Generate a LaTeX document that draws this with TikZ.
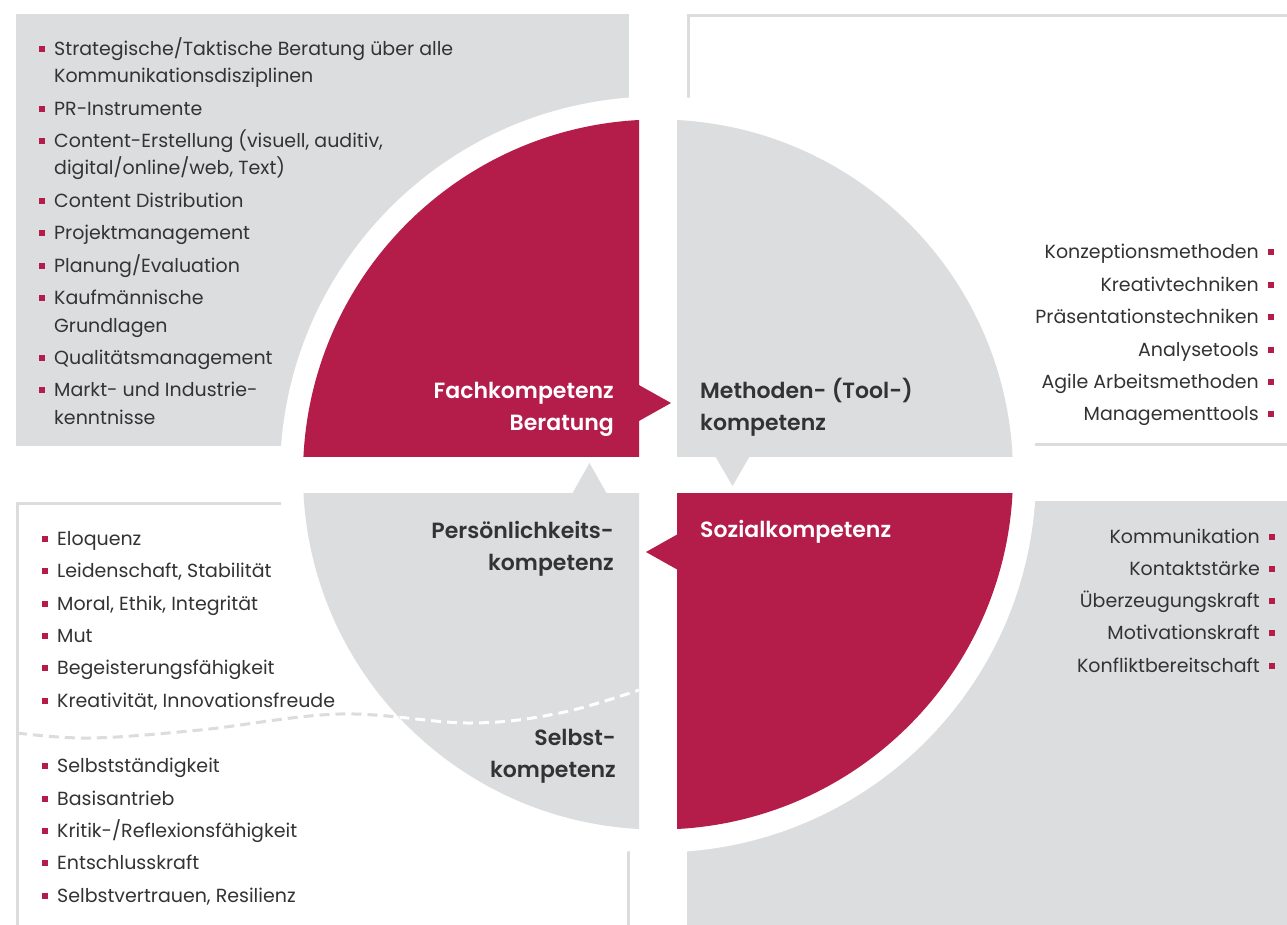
\documentclass[tikz,border=0pt]{standalone}
\usepackage{fontspec}
\setmainfont{Poppins}[BoldFont={Poppins SemiBold}]
\usetikzlibrary{calc}
\definecolor{kred}{HTML}{B41C4A}
\definecolor{kgray}{HTML}{DCDDDF}
\definecolor{ktext}{HTML}{333333}
\definecolor{kline}{HTML}{DCDCDC}
\tikzset{
  litem/.style={anchor=base west, inner sep=0pt, text=ktext, font=\fontsize{19}{22}\selectfont},
  ritem/.style={litem, anchor=base east},
  lab/.style={inner sep=0pt, font=\fontsize{22}{26}\selectfont\bfseries},
  labl/.style={lab, anchor=base west},
  labr/.style={lab, anchor=base east},
  bul/.style={fill=kred},
  outl/.style={draw=kline, line width=3pt},
  wave/.style={line width=3pt, dash pattern=on 10pt off 6pt},
}
\newcommand\Litem[4]{\node[litem] (#1) at (#2,#3) {#4};
  \fill[bul] ($(#1.base west)+(-15.25,-9.25)$) rectangle ++(6.5,6.5);}
\newcommand\Ritem[4]{\node[ritem] (#1) at (#2,#3) {#4};
  \fill[bul] ($(#1.base east)+(8.75,-9.25)$) rectangle ++(6.5,6.5);}
\newcommand\Lcont[4]{\node[litem] (#1) at (#2,#3) {#4};}
\begin{document}
\begin{tikzpicture}[x=1pt,y=-1pt]
\useasboundingbox (0,0) rectangle (1287,924);
\fill[white] (0,0) rectangle (1287,924);
% background panels
\fill[kgray] (16,14) rectangle (629,446);
\draw[outl] (688.5,15) rectangle (1300,444);
\draw[outl] (17.5,503) rectangle (628,940);
\fill[kgray] (687,501) rectangle (1300,930);
% white disc
\fill[white] (658,474.5) circle (378);
% quadrants
\begin{scope}
  \clip (0,0) rectangle (639,456);
  \fill[kred] (658,474.5) circle (355);
\end{scope}
\begin{scope}
  \clip (677,0) rectangle (1287,456);
  \fill[kgray] (658,474.5) circle (355);
\end{scope}
\begin{scope}
  \clip (0,493) rectangle (639,924);
  \fill[kgray] (658,474.5) circle (355);
\end{scope}
\begin{scope}
  \clip (677,493) rectangle (1287,924);
  \fill[kred] (658,474.5) circle (355);
\end{scope}
% pointer triangles
\fill[kred] (638,384.5) -- (671,403) -- (638,421.5) -- cycle;
\fill[kgray] (714.5,455) -- (732.5,486) -- (750.5,455) -- cycle;
\fill[kgray] (572,494) -- (589.5,463) -- (607,494) -- cycle;
\fill[kred] (678,534) -- (646,552) -- (678,570) -- cycle;
% dashed wave
\draw[wave, kline] plot[smooth, tension=0.6] coordinates {(17,733) (90,738) (200,730) (340,714) (470,723) (560,713) (639,690)};
\begin{scope}
  \clip (658,474.5) circle (355);
  \draw[wave, white] plot[smooth, tension=0.6] coordinates {(17,733) (90,738) (200,730) (340,714) (470,723) (560,713) (639,690)};
\end{scope}
% labels
\node[labr, text=white] (fach1) at (614,398) {Fachkompetenz};
\node[labr, text=white] (fach2) at (614,430) {Beratung};
\node[labl, text=ktext] (meth1) at (700,398) {Methoden- (Tool-)};
\node[labl, text=ktext] (meth2) at (700,430) {kompetenz};
\node[labr, text=ktext] (pers1) at (614,538) {Persönlichkeits-};
\node[labr, text=ktext] (pers2) at (614,570) {kompetenz};
\node[labl, text=white] (soz) at (700,537) {Sozialkompetenz};
\node[labr, text=ktext] (selb1) at (616,745) {Selbst-};
\node[labr, text=ktext] (selb2) at (616,777) {kompetenz};
% top-left list
\Litem{a1}{54}{55}{Strategische/Taktische Beratung über alle}
\Lcont{a1b}{54}{82}{Kommunikationsdisziplinen}
\Litem{a2}{54}{115}{PR-Instrumente}
\Litem{a3}{54}{147}{Content-Erstellung (visuell, auditiv,}
\Lcont{a3b}{54}{174}{digital/online/web, Text)}
\Litem{a4}{54}{207}{Content Distribution}
\Litem{a5}{54}{239}{Projektmanagement}
\Litem{a6}{54}{272}{Planung/Evaluation}
\Litem{a7}{54}{304}{Kaufmännische}
\Lcont{a7b}{54}{332}{Grundlagen}
\Litem{a8}{54}{364}{Qualitätsmanagement}
\Litem{a9}{54}{396}{Markt- und Industrie-}
\Lcont{a9b}{54}{424}{kenntnisse}
% top-right list
\Ritem{b1}{1259}{258}{Konzeptionsmethoden}
\Ritem{b2}{1259}{291}{Kreativtechniken}
\Ritem{b3}{1259}{323}{Präsentationstechniken}
\Ritem{b4}{1259}{356}{Analysetools}
\Ritem{b5}{1259}{388}{Agile Arbeitsmethoden}
\Ritem{b6}{1259}{420}{Managementtools}
% bottom-right list
\Ritem{c1}{1260}{543}{Kommunikation}
\Ritem{c2}{1260}{575}{Kontaktstärke}
\Ritem{c3}{1260}{607}{Überzeugungskraft}
\Ritem{c4}{1260}{639}{Motivationskraft}
\Ritem{c5}{1260}{672}{Konfliktbereitschaft}
% bottom-left list
\Litem{d1}{57}{545}{Eloquenz}
\Litem{d2}{57}{577}{Leidenschaft, Stabilität}
\Litem{d3}{57}{610}{Moral, Ethik, Integrität}
\Litem{d4}{57}{642}{Mut}
\Litem{d5}{57}{674}{Begeisterungsfähigkeit}
\Litem{d6}{57}{707}{Kreativität, Innovationsfreude}
\Litem{e1}{57}{772}{Selbstständigkeit}
\Litem{e2}{57}{805}{Basisantrieb}
\Litem{e3}{57}{837}{Kritik-/Reflexionsfähigkeit}
\Litem{e4}{57}{869}{Entschlusskraft}
\Litem{e5}{57}{902}{Selbstvertrauen, Resilienz}
\end{tikzpicture}
\end{document}
